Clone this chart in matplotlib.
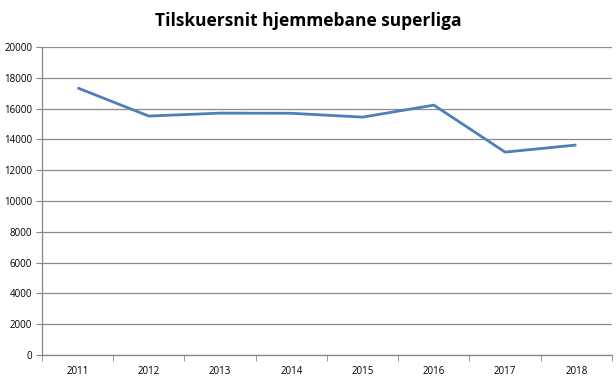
import matplotlib
matplotlib.use('Agg')
import matplotlib.pyplot as plt
import numpy as np

years = ['2011', '2012', '2013', '2014', '2015', '2016', '2017', '2018']
tilskuere = [17350, 15520, 15710, 15700, 15450, 16230, 13180, 13640]
yticks = [0, 2000, 4000, 6000, 8000, 10000, 12000, 14000, 16000, 18000, 20000]

plt.rcParams['font.family'] = ['Open Sans', 'DejaVu Sans']

fig = plt.figure(figsize=(6.16, 3.81), dpi=100)
ax = fig.add_axes([0.068, 0.068, 0.9255, 0.8085])

x = np.arange(len(years))
ax.plot(x, tilskuere, color='#4F7FB8', linewidth=2.0, solid_capstyle='butt', zorder=3)

ax.set_xlim(-0.5, len(years) - 0.5)
ax.set_ylim(0, 20000)
ax.set_yticks(yticks)
ax.set_yticklabels([str(v) for v in yticks], fontsize=7)
ax.set_xticks(x)
ax.set_xticklabels(years, fontsize=7)
ax.set_xticks(np.arange(-0.5, len(years)), minor=True)
ax.tick_params(axis='x', which='major', length=0, pad=8)
ax.tick_params(axis='x', which='minor', length=4, color='#868686')
ax.tick_params(axis='y', length=4, color='#868686', pad=3)

ax.grid(axis='y', color='#8c8c8c', linewidth=0.9)
ax.set_axisbelow(True)
for s in ['top', 'right']:
  ax.spines[s].set_visible(False)
for s in ['left', 'bottom']:
  ax.spines[s].set_color('#868686')
  ax.spines[s].set_linewidth(0.9)

fig.text(0.5, 0.945, 'Tilskuersnit hjemmebane superliga', ha='center', va='center',
         fontsize=12.5, fontweight='bold')

plt.savefig('out.png', dpi=100)
